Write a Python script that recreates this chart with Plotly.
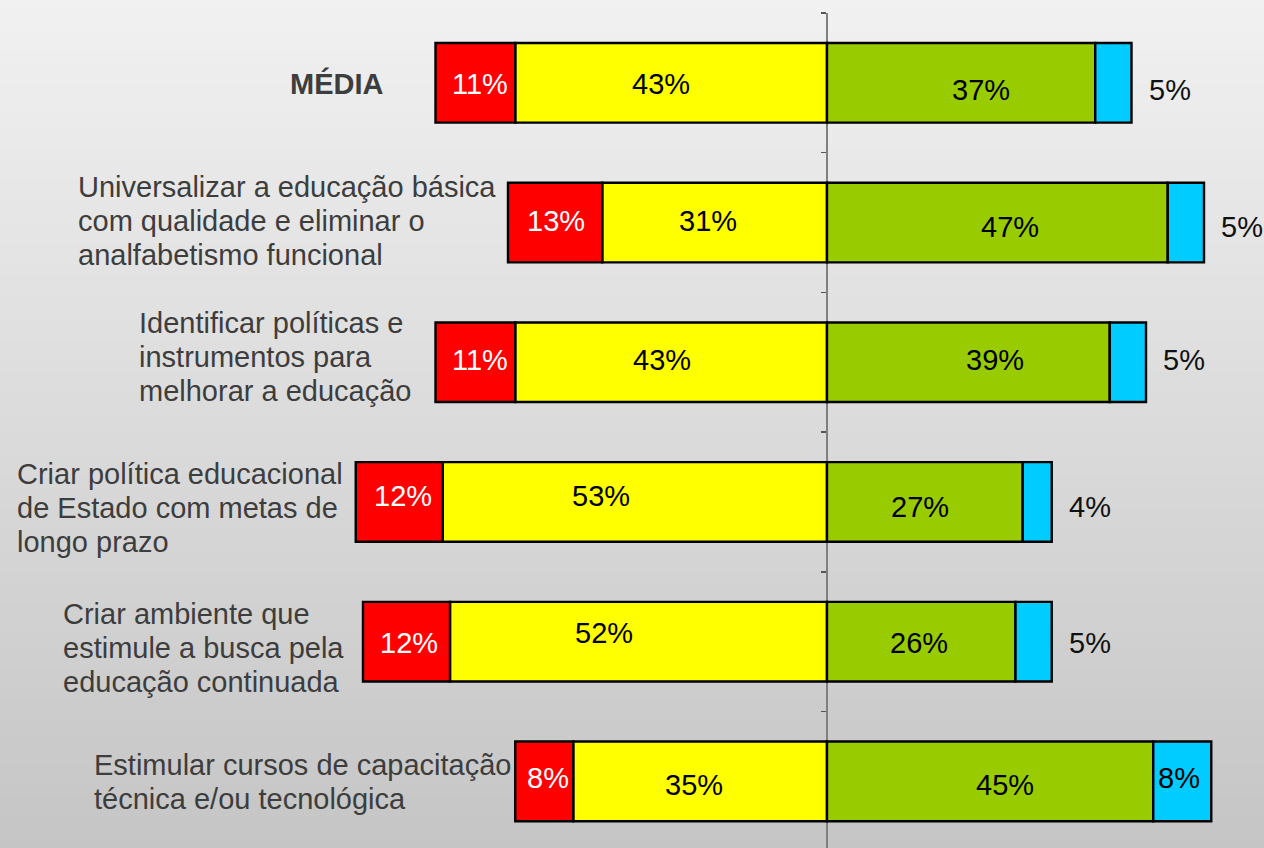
import plotly.graph_objects as go

# ---------------- data ----------------
categories = [
    "MÉDIA",
    "Universalizar a educação básica<br>com qualidade e eliminar o<br>analfabetismo funcional",
    "Identificar políticas e<br>instrumentos para<br>melhorar a educação",
    "Criar política educacional<br>de Estado com metas de<br>longo prazo",
    "Criar ambiente que<br>estimule a busca pela<br>educação continuada",
    "Estimular cursos de capacitação<br>técnica e/ou tecnológica",
]
red_vals = [11, 13, 11, 12, 12, 8]
yellow_vals = [43, 31, 43, 53, 52, 35]
green_vals = [37, 47, 39, 27, 26, 45]
blue_vals = [5, 5, 5, 4, 5, 8]

# ---------------- styles ----------------
C_RED, C_YEL, C_GRN, C_BLU = "#FF0000", "#FFFF00", "#99CC00", "#00CCFF"
FONT = "Liberation Sans, Arial, sans-serif"
FS = 29
LINE_PX = 34
W, H = 1264, 848
PX_PER_UNIT = 7.25
ZERO_PX = 827
xmin = -ZERO_PX / PX_PER_UNIT
xmax = (W - ZERO_PX) / PX_PER_UNIT

label_left_px = [288, 76, 137, 15, 61, 92]
label_dy = [1, -2, -5, 6, 6, 1]          # block centre offset from row centre (down positive)
label_bold = [True, False, False, False, False, False]

# per-row value-label offsets (pixels): x shift and y shift (down positive)
red_dx = [5, 1, 5, 4, 2, 4]
yel_dx = [-10, -7, -9, -34, -35, -6]
grn_dx = [20, 13, 27, -5, -2, 15]
red_dy = [1, -2, -2, -6, 1, -3]
yel_dy = [1, -2, -2, -6, -9, 4]
grn_dy = [7, 4, -2, 5, 1, 4]
blu_dy = [7, 4, -2, 5, 1, -3]
blue_inside = [False, False, False, False, False, True]

n = len(categories)
ypos = list(range(n))
line = dict(color="black", width=2.4)
BW = 0.57

fig = go.Figure()
fig.add_trace(go.Bar(y=ypos, x=[-v for v in yellow_vals], orientation="h", width=BW,
                     marker=dict(color=C_YEL, line=line), name="yellow", hoverinfo="skip"))
fig.add_trace(go.Bar(y=ypos, x=[-v for v in red_vals], orientation="h", width=BW,
                     marker=dict(color=C_RED, line=line), name="red", hoverinfo="skip"))
fig.add_trace(go.Bar(y=ypos, x=green_vals, orientation="h", width=BW,
                     marker=dict(color=C_GRN, line=line), name="green", hoverinfo="skip"))
fig.add_trace(go.Bar(y=ypos, x=blue_vals, orientation="h", width=BW,
                     marker=dict(color=C_BLU, line=line), name="blue", hoverinfo="skip"))

ann = []
for i in range(n):
    r, yv, g, b = red_vals[i], yellow_vals[i], green_vals[i], blue_vals[i]
    ann.append(dict(x=-(yv + r / 2), y=i, text=f"{r}%", showarrow=False, xshift=red_dx[i],
                    yshift=-red_dy[i], font=dict(color="white", size=FS, family=FONT)))
    ann.append(dict(x=-yv / 2, y=i, text=f"{yv}%", showarrow=False, xshift=yel_dx[i],
                    yshift=-yel_dy[i], font=dict(color="black", size=FS, family=FONT)))
    ann.append(dict(x=g / 2, y=i, text=f"{g}%", showarrow=False, xshift=grn_dx[i],
                    yshift=-grn_dy[i], font=dict(color="black", size=FS, family=FONT)))
    if blue_inside[i]:
        ann.append(dict(x=g + b / 2, y=i, text=f"{b}%", showarrow=False, xshift=-3,
                        yshift=-blu_dy[i], font=dict(color="black", size=FS, family=FONT)))
    else:
        ann.append(dict(x=g + b, y=i, text=f"{b}%", showarrow=False, xanchor="left", xshift=15,
                        yshift=-blu_dy[i], font=dict(color="#111111", size=FS, family=FONT)))
    lines = categories[i].split("<br>")
    L = len(lines)
    for j, ln in enumerate(lines):
        txt = f"<b>{ln}</b>" if label_bold[i] else ln
        dy = label_dy[i] + (j - (L - 1) / 2) * LINE_PX
        ann.append(dict(x=label_left_px[i] / W, xref="paper", y=i, yref="y", text=txt,
                        showarrow=False, xanchor="left", align="left", yshift=-dy,
                        font=dict(color="#3d3d3d", size=FS, family=FONT)))

# background gradient
shapes = []
N = 80
top_c, bot_c = (241, 241, 241), (197, 197, 197)
y_lo, y_hi = 0.0, 1.0 + 13 / (H - 13)
for k in range(N):
    t = (k + 0.5) / N
    c = tuple(round(top_c[j] + (bot_c[j] - top_c[j]) * t) for j in range(3))
    y1 = y_hi - (y_hi - y_lo) * k / N
    y0 = y_hi - (y_hi - y_lo) * (k + 1) / N
    shapes.append(dict(type="rect", xref="paper", yref="paper", x0=0, x1=1, y0=y0 - 0.002, y1=y1,
                       fillcolor=f"rgb{c}", line=dict(width=0), layer="below"))

fig.update_layout(
    width=W, height=H,
    margin=dict(l=0, r=0, t=13, b=0, autoexpand=False),
    barmode="relative",
    showlegend=False,
    paper_bgcolor="rgb(220,220,220)",
    plot_bgcolor="rgba(0,0,0,0)",
    shapes=shapes,
    annotations=ann,
    xaxis=dict(range=[xmin, xmax], visible=False, showgrid=False, zeroline=False, fixedrange=True),
    yaxis=dict(range=[n - 0.5 - 0.023, -0.5], anchor="free", position=-xmin / (xmax - xmin),
               showline=True, linecolor="#7f7f7f", linewidth=2, ticks="outside", ticklen=5,
               tickcolor="#555555", tickwidth=1.5,
               tickvals=[k - 0.5 for k in range(n)], showticklabels=False, showgrid=False,
               zeroline=False, layer="below traces", fixedrange=True),
    font=dict(family=FONT),
)

fig.write_html("out.html", config={"displayModeBar": False, "staticPlot": True},
               post_script="document.body.style.margin='0px';document.body.style.overflow='hidden';")
